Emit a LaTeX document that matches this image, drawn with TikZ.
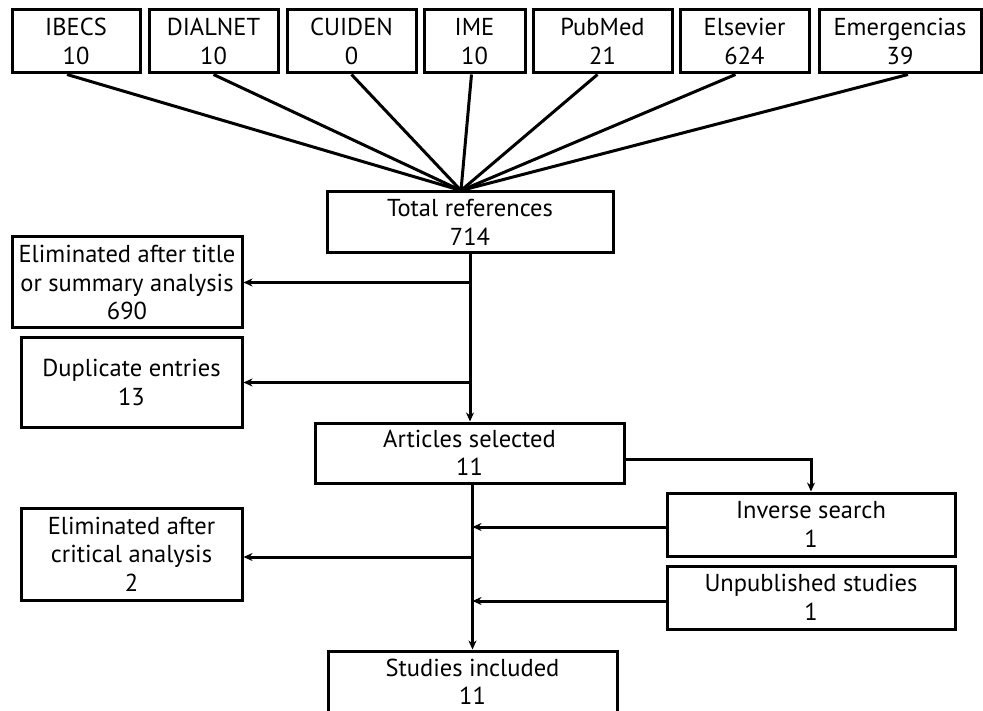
\documentclass[tikz,border=0pt]{standalone}
\usepackage{fontspec}
\setmainfont{PT Sans}
\usetikzlibrary{arrows.meta}
\tikzset{
  box/.style={draw=black, line width=3pt, fill=white, inner sep=0pt, align=center,
    font=\fontsize{24.5}{28.5}\selectfont},
  conn/.style={line width=3pt, draw=black},
  arr/.style={conn, -{Stealth[length=9pt,width=8pt]}}
}
\begin{document}
\begin{tikzpicture}[x=1pt,y=-1pt]
\useasboundingbox (0,0) rectangle (983,711);
% top sources
\node[box, minimum width=128pt, minimum height=63pt] (ibecs) at (76,41.5) {IBECS\\10};
\node[box, minimum width=129pt, minimum height=63pt] (dialnet) at (213.5,41.5) {DIALNET\\10};
\node[box, minimum width=129pt, minimum height=63pt] (cuiden) at (351.5,41.5) {CUIDEN\\0};
\node[box, minimum width=101pt, minimum height=63pt] (ime) at (474.5,41.5) {IME\\10};
\node[box, minimum width=139pt, minimum height=63pt] (pubmed) at (602.5,41.5) {PubMed\\21};
\node[box, minimum width=129pt, minimum height=63pt] (elsevier) at (744.5,41.5) {Elsevier\\624};
\node[box, minimum width=162pt, minimum height=63pt] (emerg) at (900,41.5) {Emergencias\\39};
% main flow
\node[box, minimum width=286pt, minimum height=61pt] (total) at (470,222.5) {Total references\\714};
\node[box, minimum width=230pt, minimum height=91pt] (elim1) at (127,282.5) {Eliminated after title\\or summary analysis\\690};
\node[box, minimum width=221pt, minimum height=89pt] (dup) at (131.5,382.5) {Duplicate entries\\13};
\node[box, minimum width=309pt, minimum height=60pt] (articles) at (469.5,453) {Articles selected\\11};
\node[box, minimum width=288pt, minimum height=63pt] (inverse) at (811,524.5) {Inverse search\\1};
\node[box, minimum width=288pt, minimum height=63pt] (unpub) at (811,597.5) {Unpublished studies\\1};
\node[box, minimum width=221pt, minimum height=92pt] (elim2) at (131.5,554) {Eliminated after\\critical analysis\\2};
\node[box, minimum width=289pt, minimum height=62pt] (studies) at (472.5,682) {Studies included\\11};
% convergence
\coordinate (conv) at ([xshift=-9pt]total.north);
\draw[conn] ([xshift=-9pt]ibecs.south) -- (conv);
\draw[conn] (dialnet.south) -- (conv);
\draw[conn] (cuiden.south) -- (conv);
\draw[conn] ([xshift=-3pt]ime.south) -- (conv);
\draw[conn] ([xshift=-5pt]pubmed.south) -- (conv);
\draw[conn] ([xshift=-9pt]elsevier.south) -- (conv);
\draw[conn] ([xshift=8pt]emerg.south) -- (conv);
% trunk 1
\draw[arr] (total.south) -- (total.south |- articles.north);
\draw[arr] (elim1.east -| total.south) -- (elim1.east);
\draw[arr] (dup.east -| total.south) -- (dup.east);
% side branch
\draw[arr] ([yshift=-6pt]articles.east) -| (inverse.north);
% trunk 2
\draw[arr] (studies.north |- articles.south) -- (studies.north);
\draw[arr] ([yshift=-2.5pt]inverse.west) -- ([yshift=-2.5pt]inverse.west -| studies.north);
\draw[arr] ([yshift=-3pt]elim2.east -| studies.north) -- ([yshift=-3pt]elim2.east);
\draw[arr] ([yshift=-3.5pt]unpub.west) -- ([yshift=-3.5pt]unpub.west -| studies.north);
\end{tikzpicture}
\end{document}
